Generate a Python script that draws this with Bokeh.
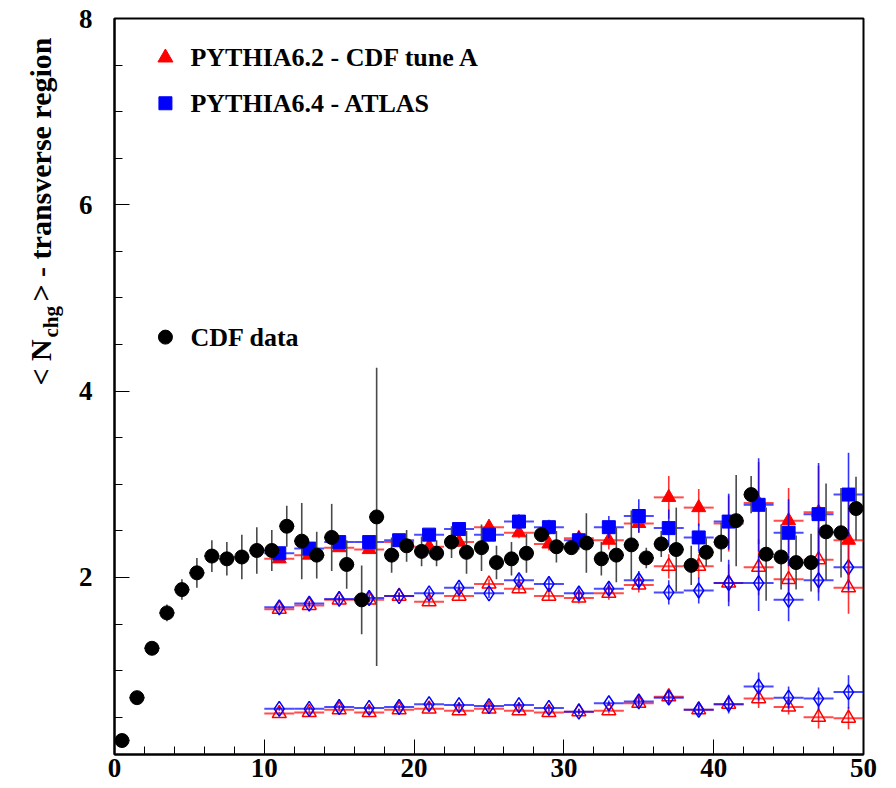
import math
from bokeh.plotting import figure
from bokeh.layouts import row
from bokeh.models import ColumnDataSource, FixedTicker, Label, Range1d
from bokeh.embed import file_html
from bokeh.resources import INLINE

# ---------------- data ----------------
cdf_x = [0.5 + i for i in range(50)]
cdf_y = [0.25, 0.71, 1.24, 1.62, 1.87, 2.05, 2.23, 2.20, 2.22, 2.29,
         2.29, 2.55, 2.39, 2.24, 2.43, 2.14, 1.76, 2.65, 2.24, 2.34,
         2.28, 2.26, 2.38, 2.27, 2.32, 2.16, 2.20, 2.26, 2.46, 2.33,
         2.32, 2.37, 2.20, 2.24, 2.35, 2.21, 2.36, 2.30, 2.13, 2.27,
         2.38, 2.61, 2.89, 2.25, 2.22, 2.16, 2.16, 2.49, 2.48, 2.74]
cdf_err = [0.01, 0.01, 0.02, 0.09, 0.11, 0.16, 0.17, 0.18, 0.24, 0.25,
           0.22, 0.22, 0.41, 0.25, 0.36, 0.26, 0.37, 1.60, 0.19, 0.17,
           0.16, 0.14, 0.17, 0.23, 0.25, 0.18, 0.18, 0.21, 0.08, 0.17,
           0.07, 0.32, 0.18, 0.29, 0.37, 0.11, 0.14, 0.45, 0.21, 0.15,
           0.21, 0.49, 0.20, 0.50, 0.35, 0.29, 0.31, 0.52, 0.48, 0.34]

mc_x = [11, 13, 15, 17, 19, 21, 23, 25, 27, 29, 31, 33, 35, 37, 39, 41, 43, 45, 47, 49]

tuneA_tot = [2.20, 2.24, 2.32, 2.30, 2.38, 2.33, 2.38, 2.54, 2.48, 2.36,
             2.42, 2.40, 2.58, 2.86, 2.75, 2.58, 2.80, 2.61, 2.70, 2.40]
tuneA_tot_err = [0.03, 0.03, 0.04, 0.04, 0.05, 0.05, 0.05, 0.06, 0.06, 0.07,
                 0.08, 0.10, 0.10, 0.23, 0.20, 0.30, 0.44, 0.35, 0.50, 0.45]
atlas_tot = [2.26, 2.31, 2.38, 2.38, 2.40, 2.46, 2.52, 2.46, 2.60, 2.54,
             2.40, 2.54, 2.66, 2.53, 2.43, 2.60, 2.78, 2.48, 2.68, 2.89]
atlas_tot_err = [0.03, 0.04, 0.04, 0.05, 0.05, 0.06, 0.06, 0.07, 0.08, 0.08,
                 0.10, 0.12, 0.18, 0.20, 0.15, 0.30, 0.50, 0.36, 0.55, 0.45]

tuneA_mid = [1.66, 1.70, 1.76, 1.76, 1.80, 1.74, 1.80, 1.93, 1.88, 1.80,
             1.78, 1.83, 1.92, 2.12, 2.12, 1.94, 2.11, 1.98, 2.19, 1.89]
tuneA_mid_err = [0.03, 0.03, 0.03, 0.03, 0.04, 0.04, 0.05, 0.05, 0.05, 0.05,
                 0.06, 0.07, 0.08, 0.13, 0.13, 0.20, 0.30, 0.25, 0.35, 0.28]
atlas_mid = [1.68, 1.72, 1.77, 1.78, 1.80, 1.83, 1.89, 1.83, 1.97, 1.93,
             1.83, 1.88, 1.97, 1.84, 1.86, 1.94, 1.94, 1.76, 1.97, 2.11]
atlas_mid_err = [0.03, 0.03, 0.04, 0.04, 0.04, 0.05, 0.05, 0.05, 0.06, 0.06,
                 0.07, 0.08, 0.10, 0.13, 0.14, 0.25, 0.30, 0.23, 0.22, 0.25]

tuneA_low = [0.54, 0.55, 0.58, 0.55, 0.58, 0.59, 0.57, 0.59, 0.57, 0.55,
             0.56, 0.57, 0.65, 0.72, 0.58, 0.64, 0.70, 0.61, 0.50, 0.49]
tuneA_low_err = [0.02, 0.02, 0.02, 0.02, 0.02, 0.02, 0.03, 0.03, 0.03, 0.03,
                 0.03, 0.03, 0.05, 0.07, 0.05, 0.05, 0.10, 0.08, 0.12, 0.12]
atlas_low = [0.59, 0.59, 0.61, 0.60, 0.61, 0.64, 0.63, 0.62, 0.63, 0.60,
             0.56, 0.65, 0.67, 0.71, 0.58, 0.64, 0.83, 0.71, 0.70, 0.77]
atlas_low_err = [0.02, 0.02, 0.02, 0.02, 0.02, 0.03, 0.03, 0.03, 0.03, 0.03,
                 0.03, 0.03, 0.05, 0.07, 0.06, 0.10, 0.15, 0.12, 0.12, 0.18]

legend_labels = ["PYTHIA6.2 - CDF tune A", "PYTHIA6.4 - ATLAS", "CDF data"]
x_ticks = [0, 10, 20, 30, 40, 50]
y_ticks = [2, 4, 6, 8]
y_title_parts = ["< N", "chg", "> - transverse region"]

RED = "#ff0000"
BLUE = "#0000ff"
FONT = "Liberation Serif"

p = figure(width=826, height=788, output_backend="svg", toolbar_location=None,
           x_range=Range1d(0, 50), y_range=Range1d(0.1, 8),
           min_border_left=44, min_border_right=33, min_border_top=18, min_border_bottom=34)
p.frame_width = 749
p.frame_height = 736
p.xgrid.visible = False
p.ygrid.visible = False
p.outline_line_color = "black"
p.outline_line_width = 2
p.background_fill_color = "white"
p.border_fill_color = "white"

p.xaxis.ticker = FixedTicker(ticks=x_ticks, minor_ticks=[v for v in range(0, 51, 2)])
p.yaxis.ticker = FixedTicker(ticks=y_ticks, minor_ticks=[v * 0.5 for v in range(0, 17)])
for ax in (p.xaxis[0], p.yaxis[0]):
    ax.axis_line_color = "black"
    ax.axis_line_width = 2
    ax.major_tick_in = 15
    ax.major_tick_out = 0
    ax.minor_tick_in = 8
    ax.minor_tick_out = 0
    ax.major_tick_line_color = "black"
    ax.minor_tick_line_color = "black"
    ax.major_tick_line_width = 1
    ax.minor_tick_line_width = 1
    ax.major_label_text_font = FONT
    ax.major_label_text_font_style = "bold"
    ax.major_label_text_font_size = "27px"
    ax.major_label_text_color = "black"
p.xaxis.major_label_standoff = 4
p.yaxis.major_label_standoff = 22


def err_source(xs, ys, es, hw):
    return ColumnDataSource(dict(
        x=xs, y=ys,
        lo=[y - e for y, e in zip(ys, es)],
        hi=[y + e for y, e in zip(ys, es)],
        xl=[x - hw for x in xs],
        xr=[x + hw for x in xs],
    ))


def draw_mc(src, color, marker, fill, size):
    p.segment(x0="xl", y0="y", x1="xr", y1="y", source=src, line_color=color,
              line_width=2, line_alpha=0.7)
    p.segment(x0="x", y0="lo", x1="x", y1="hi", source=src, line_color=color,
              line_width=1.6, line_alpha=0.8)
    if fill:
        p.scatter(x="x", y="y", source=src, marker=marker, size=size,
                  fill_color=color, line_color=color)
    else:
        p.scatter(x="x", y="y", source=src, marker=marker, size=size,
                  fill_color="white", fill_alpha=0.0, line_color=color, line_width=1.5)


# component bands (open markers)
draw_mc(err_source(mc_x, tuneA_low, tuneA_low_err, 1.0), RED, "triangle", False, 14)
draw_mc(err_source(mc_x, atlas_low, atlas_low_err, 1.0), BLUE, "diamond", False, 15)
draw_mc(err_source(mc_x, tuneA_mid, tuneA_mid_err, 1.0), RED, "triangle", False, 14)
draw_mc(err_source(mc_x, atlas_mid, atlas_mid_err, 1.0), BLUE, "diamond", False, 15)
# totals (filled markers)
draw_mc(err_source(mc_x, tuneA_tot, tuneA_tot_err, 1.0), RED, "triangle", True, 14)
draw_mc(err_source(mc_x, atlas_tot, atlas_tot_err, 1.0), BLUE, "square", True, 13)

# CDF data
cdf_src = err_source(cdf_x, cdf_y, cdf_err, 0.5)
p.segment(x0="x", y0="lo", x1="x", y1="hi", source=cdf_src, line_color="#4a4a4a", line_width=1.6)
p.segment(x0="xl", y0="y", x1="xr", y1="y", source=cdf_src, line_color="black", line_width=1.6)
p.scatter(x="x", y="y", source=cdf_src, marker="circle", size=14,
          fill_color="black", line_color="black")

# legend (manual)
leg_x = [3.4, 3.4, 3.4]
leg_y = [7.58, 7.09, 4.58]
leg_marker = ["triangle", "square", "circle"]
leg_color = [RED, BLUE, "black"]
leg_size = [15, 13, 14]
for i in range(3):
    p.scatter(x=[leg_x[i]], y=[leg_y[i]], marker=leg_marker[i], size=leg_size[i],
              fill_color=leg_color[i], line_color=leg_color[i])
    p.add_layout(Label(x=leg_x[i] + 1.67, y=leg_y[i], text=legend_labels[i],
                       text_font=FONT, text_font_style="bold", text_font_size="26px",
                       text_color="black", text_baseline="middle", text_align="left"))

# narrow panel holding the y-axis title (with subscript), coordinates in pixels
t = figure(width=70, height=788, output_backend="svg", toolbar_location=None,
           x_range=Range1d(0, 70), y_range=Range1d(788, 0),
           x_axis_type=None, y_axis_type=None,
           min_border_left=0, min_border_right=0, min_border_top=0, min_border_bottom=0)
t.frame_width = 70
t.frame_height = 788
t.xgrid.visible = False
t.ygrid.visible = False
t.outline_line_color = None
t.background_fill_color = "white"
t.border_fill_color = "white"

ang = math.pi / 2
title_x = [40, 50, 40]
title_y = [367, 319, 283]
title_size = ["30px", "21px", "30px"]
for i in range(3):
    t.add_layout(Label(x=title_x[i], y=title_y[i], text=y_title_parts[i], angle=ang,
                       text_font=FONT, text_font_style="bold", text_font_size=title_size[i],
                       text_color="black", text_align="left", text_baseline="alphabetic"))

layout = row(t, p, spacing=0)
open("out.html", "w").write(file_html(layout, INLINE))
